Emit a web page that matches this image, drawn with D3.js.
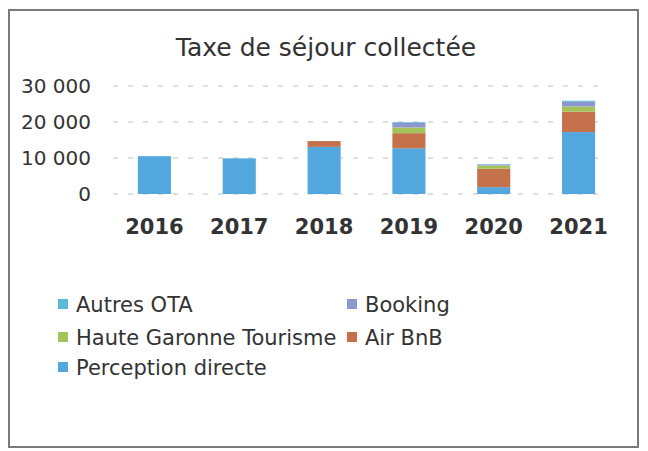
<!DOCTYPE html>
<html>
<head>
<meta charset="utf-8">
<script src="https://cdn.jsdelivr.net/npm/d3@7"></script>
<style>
  body { margin: 0; background: #fff; }
  svg { display: block; }
</style>
</head>
<body>
<div id="chart"></div>
<script>
// data
const years = ["2016", "2017", "2018", "2019", "2020", "2021"];
const seriesNames = ["Perception directe", "Air BnB", "Haute Garonne Tourisme", "Booking", "Autres OTA"];
const perceptionDirecte = [10500, 9900, 13100, 12700, 1900, 17200];
const airBnb = [0, 0, 1600, 4200, 5100, 5700];
const hauteGaronne = [0, 0, 0, 1600, 900, 1400];
const booking = [0, 0, 0, 1300, 300, 1300];
const autresOta = [0, 0, 0, 200, 100, 300];
const yTicks = [0, 10000, 20000, 30000];
// legend order as shown (two columns)
const legendOrder = ["Autres OTA", "Booking", "Haute Garonne Tourisme", "Air BnB", "Perception directe"];

const colors = {
  "Perception directe": "#52a8de",
  "Air BnB": "#c4714c",
  "Haute Garonne Tourisme": "#a4c45a",
  "Booking": "#8c97cf",
  "Autres OTA": "#5bb8d8"
};

const width = 648, height = 451;
const font = "'DejaVu Sans', sans-serif";

const rows = years.map((y, i) => ({
  year: y,
  "Perception directe": perceptionDirecte[i],
  "Air BnB": airBnb[i],
  "Haute Garonne Tourisme": hauteGaronne[i],
  "Booking": booking[i],
  "Autres OTA": autresOta[i]
}));

const svg = d3.select("#chart").append("svg")
  .attr("width", width)
  .attr("height", height);

// frame
svg.append("rect")
  .attr("x", 9).attr("y", 10)
  .attr("width", 629).attr("height", 437)
  .attr("fill", "none")
  .attr("stroke", "#7a7a7a")
  .attr("stroke-width", 2);

svg.append("text")
  .attr("x", 326)
  .attr("y", 56)
  .attr("text-anchor", "middle")
  .style("font-family", font)
  .style("font-size", "25px")
  .style("fill", "#333")
  .text("Taxe de séjour collectée");

const x = d3.scaleBand()
  .domain(years)
  .range([112, 621])
  .paddingInner(0.61)
  .paddingOuter(0.305);

const y = d3.scaleLinear()
  .domain([0, 30000])
  .range([194, 86]);

// gridlines
svg.append("g")
  .selectAll("line")
  .data(yTicks)
  .enter().append("line")
  .attr("x1", 113).attr("x2", 607)
  .attr("y1", d => y(d)).attr("y2", d => y(d))
  .attr("stroke", "#bdbdbd")
  .attr("stroke-width", 1)
  .attr("stroke-dasharray", "5,10");

// y axis labels
const yAxis = svg.append("g")
  .attr("transform", "translate(91,0)")
  .call(d3.axisLeft(y).tickValues(yTicks).tickSize(0).tickPadding(0)
    .tickFormat(d => d3.format(",")(d).replace(",", " ")));
yAxis.select(".domain").remove();
yAxis.selectAll("text")
  .style("font-family", font)
  .style("font-size", "20px")
  .style("fill", "#333");

// stacked bars
const stack = d3.stack().keys(seriesNames);
const layers = stack(rows);

svg.append("g")
  .selectAll("g")
  .data(layers)
  .enter().append("g")
  .attr("fill", d => colors[d.key])
  .selectAll("rect")
  .data(d => d)
  .enter().append("rect")
  .attr("x", d => x(d.data.year))
  .attr("width", x.bandwidth())
  .attr("y", d => y(d[1]))
  .attr("height", d => y(d[0]) - y(d[1]));

// x axis labels
const xAxis = svg.append("g")
  .attr("transform", "translate(0,219)")
  .call(d3.axisBottom(x).tickSize(0).tickPadding(0));
xAxis.select(".domain").remove();
xAxis.selectAll("text")
  .style("font-family", font)
  .style("font-size", "21px")
  .style("font-weight", "bold")
  .style("fill", "#333");

// legend
const legendPos = [
  [58, 304], [347, 304],
  [58, 337], [347, 337],
  [58, 367]
];
const legend = svg.append("g");
legendOrder.forEach((name, i) => {
  const [lx, ly] = legendPos[i];
  legend.append("rect")
    .attr("x", lx).attr("y", ly - 5)
    .attr("width", 10).attr("height", 10)
    .attr("fill", colors[name]);
  legend.append("text")
    .attr("x", lx + 18)
    .attr("y", ly)
    .attr("dy", "0.36em")
    .style("font-family", font)
    .style("font-size", "21px")
    .style("fill", "#333")
    .text(name);
});
</script>
</body>
</html>
